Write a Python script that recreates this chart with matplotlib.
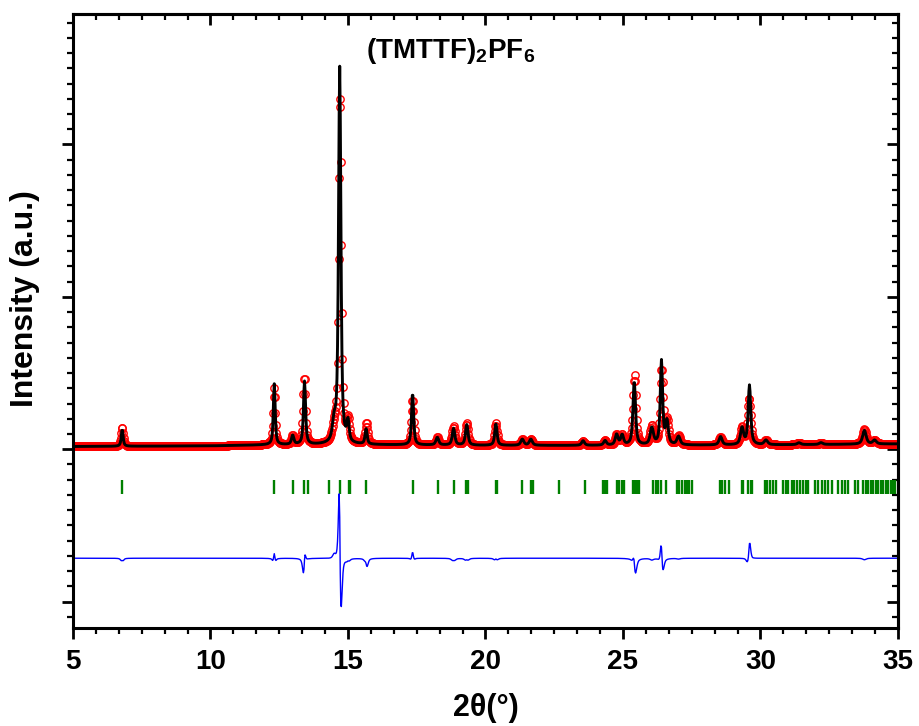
import numpy as np
import matplotlib
matplotlib.use("Agg")
import matplotlib.pyplot as plt
from matplotlib.ticker import MultipleLocator, AutoMinorLocator, NullFormatter

# ---------------- data ----------------
scan_start, scan_stop, scan_step = 5.0, 35.0, 0.02

# refined background (knots in 2theta / intensity)
bg_knots_2theta = [5.0, 10.0, 12.0, 15.0, 20.0, 25.0, 30.0, 35.0]
bg_knots_int = [0.018, 0.022, 0.028, 0.030, 0.025, 0.025, 0.028, 0.035]

# calculated profile: peak position, height, FWHM
calc_pos = [6.79, 12.32, 12.99, 13.42, 14.50, 14.700, 15.00, 15.66, 17.35, 18.25,
            18.84, 19.32, 20.38, 21.34, 21.65, 23.55, 24.35, 24.77, 24.97, 25.41,
            26.05, 26.40, 26.60, 27.02, 28.55, 29.33, 29.60, 30.20, 31.40, 32.20,
            33.78, 34.15]
calc_height = [0.11, 0.40, 0.06, 0.415, 0.12, 2.47, 0.13, 0.10, 0.34, 0.05,
               0.11, 0.135, 0.14, 0.04, 0.04, 0.03, 0.03, 0.07, 0.065, 0.42,
               0.11, 0.55, 0.15, 0.055, 0.055, 0.11, 0.39, 0.03, 0.012, 0.012,
               0.09, 0.025]
calc_fwhm = [0.08, 0.08, 0.10, 0.09, 0.15, 0.10, 0.10, 0.09, 0.09, 0.12,
             0.11, 0.11, 0.10, 0.13, 0.13, 0.12, 0.12, 0.12, 0.12, 0.11,
             0.14, 0.10, 0.12, 0.14, 0.13, 0.13, 0.11, 0.15, 0.15, 0.15,
             0.15, 0.15]

# observed profile: peak position, height, FWHM
obs_pos = [6.79, 12.32, 12.99, 13.41, 14.50, 14.712, 15.00, 15.67, 17.35, 18.25,
           18.84, 19.32, 20.38, 21.34, 21.65, 23.55, 24.35, 24.77, 24.97, 25.42,
           26.05, 26.41, 26.60, 27.02, 28.55, 29.33, 29.59, 30.20, 31.40, 32.20,
           33.78, 34.15]
obs_height = [0.125, 0.37, 0.06, 0.44, 0.09, 2.30, 0.14, 0.14, 0.30, 0.05,
              0.125, 0.145, 0.145, 0.04, 0.04, 0.03, 0.03, 0.07, 0.065, 0.455,
              0.12, 0.49, 0.15, 0.06, 0.055, 0.11, 0.30, 0.03, 0.012, 0.012,
              0.10, 0.025]
obs_fwhm = [0.09, 0.09, 0.10, 0.10, 0.16, 0.108, 0.11, 0.11, 0.10, 0.12,
            0.12, 0.12, 0.11, 0.13, 0.13, 0.12, 0.12, 0.12, 0.12, 0.125,
            0.14, 0.12, 0.12, 0.14, 0.13, 0.13, 0.13, 0.15, 0.15, 0.15,
            0.15, 0.15]

# Bragg reflection positions
reflections = [6.79, 12.32, 12.99, 13.41, 13.56, 14.31, 14.70, 15.05, 15.08, 15.67,
               17.36, 18.26, 18.85, 19.30, 19.37, 20.38, 20.43, 21.34, 21.67, 21.72,
               22.68, 23.62, 24.28, 24.35, 24.41, 24.77, 24.85, 24.95, 25.04, 25.37,
               25.44, 25.50, 25.57, 26.10, 26.20, 26.28, 26.37, 26.55, 26.95, 27.05,
               27.13, 27.25, 27.33, 27.40, 27.50, 28.53, 28.61, 28.71, 28.84, 29.32,
               29.38, 29.56, 29.65, 29.71, 30.16, 30.25, 30.35, 30.47, 30.55, 30.83,
               30.93, 31.01, 31.13, 31.22, 31.32, 31.44, 31.54, 31.66, 31.74, 31.98,
               32.10, 32.23, 32.35, 32.47, 32.59, 32.83, 32.95, 33.07, 33.19, 33.44,
               33.53, 33.74, 33.84, 33.92, 34.02, 34.10, 34.20, 34.29, 34.37, 34.47,
               34.56, 34.65, 34.75, 34.83, 34.89]

reflection_row = -0.245
difference_offset = -0.715


def pseudo_voigt(x, x0, h, fwhm, eta=0.7):
    d = (x - x0) / (fwhm / 2.0)
    return h * (eta / (1.0 + d ** 2) + (1.0 - eta) * np.exp(-np.log(2) * d ** 2))


def profile(x, pos, height, fwhm):
    y = np.interp(x, bg_knots_2theta, bg_knots_int)
    for p, h, w in zip(pos, height, fwhm):
        y = y + pseudo_voigt(x, p, h, w)
    return y


two_theta = np.arange(scan_start, scan_stop + scan_step / 2, scan_step)
y_calc = profile(two_theta, calc_pos, calc_height, calc_fwhm)
y_obs = profile(two_theta, obs_pos, obs_height, obs_fwhm)
y_diff = y_calc - y_obs

# ---------------- figure ----------------
plt.rcParams["font.family"] = ["Liberation Sans", "DejaVu Sans"]
plt.rcParams["font.weight"] = "bold"
plt.rcParams["mathtext.fontset"] = "custom"
plt.rcParams["mathtext.rm"] = "Liberation Sans:bold"
plt.rcParams["mathtext.bf"] = "Liberation Sans:bold"

fig = plt.figure(figsize=(9.19, 7.26), dpi=100)
ax = fig.add_axes([0.0794, 0.1354, 0.8977, 0.8453])

ax.plot(two_theta, y_obs, linestyle="none", marker="o", markersize=5.3,
        markerfacecolor="none", markeredgecolor="red", markeredgewidth=1.0, zorder=2)
ax.plot(two_theta, y_calc, color="black", linewidth=2.1, zorder=3)
ax.plot(reflections, np.full(len(reflections), reflection_row), linestyle="none",
        marker="|", markersize=10, markeredgewidth=1.7, color="green", zorder=2)
ax.plot(two_theta, y_diff + difference_offset, color="blue", linewidth=1.0, zorder=2)

ax.set_xlim(5, 35)
ax.set_ylim(-1.171, 2.856)

ax.xaxis.set_major_locator(MultipleLocator(5))
ax.xaxis.set_minor_locator(AutoMinorLocator(6))
ax.yaxis.set_major_locator(MultipleLocator(1))
ax.yaxis.set_minor_locator(AutoMinorLocator(10))
ax.yaxis.set_major_formatter(NullFormatter())

ax.tick_params(which="both", direction="out", top=False, right=False)
ax.tick_params(which="major", length=8, width=2.0)
ax.tick_params(which="minor", length=4.2, width=1.6)
ax.tick_params(axis="x", which="major", labelsize=20, pad=7)
for lab in ax.get_xticklabels():
    lab.set_fontweight("bold")

for s in ax.spines.values():
    s.set_linewidth(2.2)

# inward ticks on the top and right frame
top = ax.secondary_xaxis("top")
top.xaxis.set_major_locator(MultipleLocator(5))
top.xaxis.set_minor_locator(AutoMinorLocator(6))
top.xaxis.set_major_formatter(NullFormatter())
top.tick_params(which="both", direction="in")
top.tick_params(which="major", length=8, width=2.0)
top.tick_params(which="minor", length=4.2, width=1.6)
top.spines["top"].set_linewidth(2.2)

right = ax.secondary_yaxis("right")
right.yaxis.set_major_locator(MultipleLocator(1))
right.yaxis.set_minor_locator(AutoMinorLocator(10))
right.yaxis.set_major_formatter(NullFormatter())
right.tick_params(which="both", direction="in")
right.tick_params(which="major", length=8, width=2.0)
right.tick_params(which="minor", length=4.2, width=1.6)
right.spines["right"].set_linewidth(2.2)

ax.set_xlabel("2θ(°)", fontsize=22, fontweight="bold", va="center")
ax.xaxis.set_label_coords(0.5, -0.131)
ax.set_ylabel("Intensity (a.u.)", fontsize=23, fontweight="bold", va="center")
ax.yaxis.set_label_coords(-0.058, 0.537)

ax.text(0.458, 0.928, r"(TMTTF)$_{\mathbf{2}}$PF$_{\mathbf{6}}$", transform=ax.transAxes,
        ha="center", va="baseline", fontsize=20, fontweight="bold")

fig.savefig("out.png", dpi=100)
